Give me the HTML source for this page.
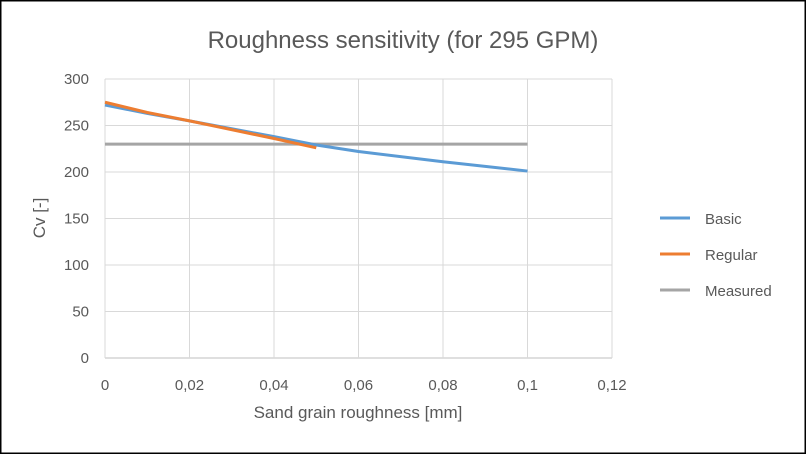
<!DOCTYPE html>
<html><head><meta charset="utf-8"><style>
body{margin:0;background:#fff;}
svg{display:block;font-family:"Liberation Sans",sans-serif;}
</style></head><body>
<svg width="806" height="454">
<rect x="0.5" y="0.5" width="805" height="453" fill="#fff" stroke="#000" stroke-width="2"/>
<text x="403" y="48" text-anchor="middle" font-size="24" fill="#595959">Roughness sensitivity (for 295 GPM)</text>
<g id="grid"></g><g id="series"></g><g id="ticks"></g>
<text x="358" y="418" text-anchor="middle" font-size="17" fill="#595959">Sand grain roughness [mm]</text>
<text transform="translate(45,218) rotate(-90)" text-anchor="middle" font-size="17" fill="#595959">Cv [-]</text>
<g>
<line x1="660" y1="218" x2="690" y2="218" stroke="#5b9bd5" stroke-width="3"/>
<text x="705" y="224" font-size="15" fill="#595959">Basic</text>
<line x1="660" y1="254" x2="690" y2="254" stroke="#ed7d31" stroke-width="3"/>
<text x="705" y="260" font-size="15" fill="#595959">Regular</text>
<line x1="660" y1="290" x2="690" y2="290" stroke="#a5a5a5" stroke-width="3"/>
<text x="705" y="296" font-size="15" fill="#595959">Measured</text>
</g>
</svg>
<script>
const xTicks=[0,0.02,0.04,0.06,0.08,0.1,0.12];
const xTickLabels=["0","0,02","0,04","0,06","0,08","0,1","0,12"];
const yTicks=[0,50,100,150,200,250,300];
const basicX=[0,0.01,0.02,0.04,0.05,0.06,0.08,0.1];
const basicY=[272,263,255,238,229,222,211,201];
const regularX=[0,0.01,0.02,0.04,0.05];
const regularY=[275,264,255,236,226];
const measuredX=[0,0.1];
const measuredY=[230,230];
const X0=105,X1=612,Y0=358,Y1=79;
const sx=v=>X0+(v-0)/(0.12)*(X1-X0);
const sy=v=>Y0-(v/300)*(Y0-Y1);
const NS="http://www.w3.org/2000/svg";
const grid=document.getElementById('grid'),ticks=document.getElementById('ticks'),ser=document.getElementById('series');
yTicks.forEach(v=>{
 const l=document.createElementNS(NS,'line');
 l.setAttribute('x1',X0);l.setAttribute('x2',X1);l.setAttribute('y1',sy(v));l.setAttribute('y2',sy(v));
 l.setAttribute('stroke',v===0?'#bfbfbf':'#d9d9d9');l.setAttribute('stroke-width','1');
 
 
 grid.appendChild(l);
 const t=document.createElementNS(NS,'text');
 t.setAttribute('x',X0-16);t.setAttribute('y',sy(v)+5);t.setAttribute('text-anchor','end');
 t.setAttribute('font-size','15');t.setAttribute('fill','#595959');t.textContent=v;
 
 
 ticks.appendChild(t);
});
xTicks.forEach((v,i)=>{
 const l=document.createElementNS(NS,'line');
 l.setAttribute('x1',sx(v));l.setAttribute('x2',sx(v));l.setAttribute('y1',Y1);l.setAttribute('y2',Y0);
 l.setAttribute('stroke','#d9d9d9');l.setAttribute('stroke-width','1');
 
 
 grid.appendChild(l);
 const t=document.createElementNS(NS,'text');
 t.setAttribute('x',sx(v));t.setAttribute('y',390);t.setAttribute('text-anchor','middle');
 t.setAttribute('font-size','15');t.setAttribute('fill','#595959');t.textContent=xTickLabels[i];
 
 
 ticks.appendChild(t);
});
function line(xs,ys,color,name){
 const p=document.createElementNS(NS,'polyline');
 p.setAttribute('points',xs.map((x,i)=>sx(x)+','+sy(ys[i])).join(' '));
 p.setAttribute('fill','none');p.setAttribute('stroke',color);p.setAttribute('stroke-width','3');
 p.setAttribute('stroke-linejoin','round');
 
 
 ser.appendChild(p);
}
line(measuredX,measuredY,'#a5a5a5','measured-line');
line(basicX,basicY,'#5b9bd5','basic-line');
line(regularX,regularY,'#ed7d31','regular-line');
</script>
</body></html>
